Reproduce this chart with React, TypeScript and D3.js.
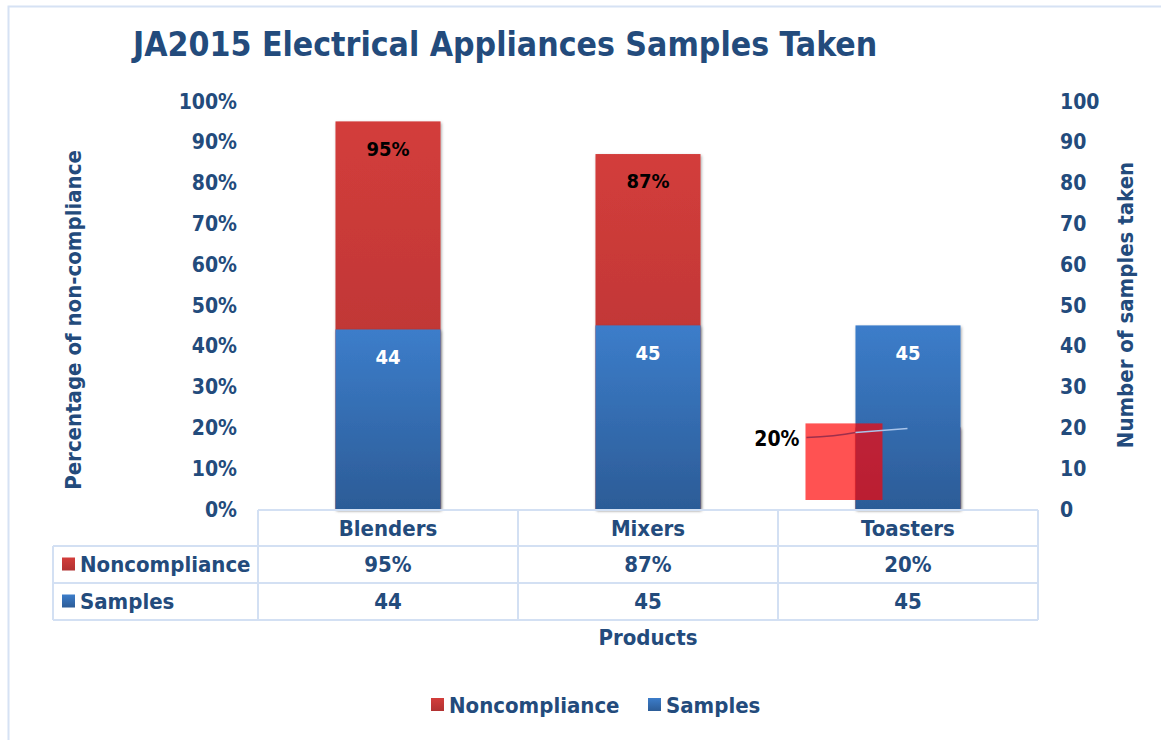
import React from "react";
import * as d3 from "d3";

const categories = ["Blenders", "Mixers", "Toasters"];
const noncompliance = [0.95, 0.87, 0.2];
const samples = [44, 45, 45];
const leftTicks = [0, 0.1, 0.2, 0.3, 0.4, 0.5, 0.6, 0.7, 0.8, 0.9, 1.0];
const rightTicks = [0, 10, 20, 30, 40, 50, 60, 70, 80, 90, 100];
const seriesNames = ["Noncompliance", "Samples"];

const W = 1161;
const H = 740;
const FONT = "'DejaVu Sans Condensed', 'DejaVu Sans', Verdana, sans-serif";
const NAVY = "#234B7C";
const GRID = "#D3E0F3";
const FS = 22;

export default function App() {
  const plotL = 258, plotR = 1038, plotT = 101, plotB = 509;
  const x = d3.scaleBand<string>().domain(categories).range([plotL, plotR]).paddingInner(0.596).paddingOuter(0.298);
  const yL = d3.scaleLinear().domain([0, 1]).range([plotB, plotT]);
  const yR = d3.scaleLinear().domain([0, 100]).range([plotB, plotT]);
  const step = x.step();
  const bw = x.bandwidth();
  const pct = d3.format(".0%");

  const tableTop = plotB + 1;
  const rowH = 37;
  const rows = [tableTop, tableTop + 36, tableTop + 36 + rowH, tableTop + 36 + 2 * rowH];
  const tableLeft = 53;

  const tIdx = 2;
  const tx = x(categories[tIdx])!;
  const tTop = yL(noncompliance[tIdx]);

  return (
    <svg width={W} height={H} style={{ position: "absolute", left: 0, top: 0 }} fontFamily={FONT}>
      <defs>
        <linearGradient id="gRed" x1="0" y1="0" x2="0" y2="1">
          <stop offset="0" stopColor="#D33D3B" />
          <stop offset="1" stopColor="#B13232" />
        </linearGradient>
        <linearGradient id="gBlue" x1="0" y1="0" x2="0" y2="1">
          <stop offset="0" stopColor="#3C7DCA" />
          <stop offset="1" stopColor="#2C5C97" />
        </linearGradient>
        <filter id="shadow" x="-10%" y="-10%" width="130%" height="130%">
          <feDropShadow dx="1" dy="1.5" stdDeviation="1.5" floodColor="#000" floodOpacity="0.35" />
        </filter>
      </defs>
      <rect x={0} y={0} width={W} height={H} fill="#fff" />
      <path d={`M8.5,${H} V6.5 H${W}`} fill="none" stroke="#D6E2F4" strokeWidth={2} />

      <text x={133} y={56} fontSize={33.5} fontWeight="bold" fill={NAVY}>
        JA2015 Electrical Appliances Samples Taken
      </text>

      {/* left axis ticks */}
      {leftTicks.map((t) => (
        <text key={"l" + t} x={237} y={yL(t)} dy="0.36em" textAnchor="end" fontSize={21} fontWeight="bold" fill={NAVY}>
          {pct(t)}
        </text>
      ))}
      {rightTicks.map((t) => (
        <text key={"r" + t} x={1060} y={yR(t)} dy="0.36em" textAnchor="start" fontSize={21} fontWeight="bold" fill={NAVY}>
          {t}
        </text>
      ))}
      <text transform={`translate(81,320) rotate(-90)`} textAnchor="middle" fontSize={FS} fontWeight="bold" fill={NAVY}>
        Percentage of non-compliance
      </text>
      <text transform={`translate(1133,305) rotate(-90)`} textAnchor="middle" fontSize={FS} fontWeight="bold" fill={NAVY}>
        Number of samples taken
      </text>

      {/* bars */}
      {categories.map((c, i) => (
        <rect key={"nb" + c} x={x(c)} y={yL(noncompliance[i])} width={bw} height={plotB - yL(noncompliance[i])} fill="url(#gRed)" filter="url(#shadow)" />
      ))}
      {categories.map((c, i) => (
        <rect key={"sb" + c} x={x(c)} y={yR(samples[i])} width={bw} height={plotB - yR(samples[i])} fill="url(#gBlue)" filter="url(#shadow)" />
      ))}
      {categories.map((c, i) =>
        i === tIdx ? null : (
          <text key={"nl" + c} x={x(c)! + bw / 2} y={yL(noncompliance[i]) + 27} dy="0.36em" textAnchor="middle" fontSize={20} fontWeight="bold" fill="#000">
            {pct(noncompliance[i])}
          </text>
        )
      )}
      {categories.map((c, i) => (
        <text key={"sl" + c} x={x(c)! + bw / 2} y={yR(samples[i]) + 27} dy="0.36em" textAnchor="middle" fontSize={20} fontWeight="bold" fill="#fff">
          {samples[i]}
        </text>
      ))}

      {/* toasters noncompliance callout artifact */}
      <rect x={tx - 50} y={tTop - 4} width={77} height={plotB - 9 - (tTop - 4)} fill="#FF0000" opacity={0.68} />
      <path d={`M${tx - 49},${tTop + 10} Q${tx - 20},${tTop + 9} ${tx},${tTop + 5}`} fill="none" stroke="#9E2F4C" strokeWidth={1.5} />
      <path d={`M${tx},${tTop + 5} L${tx + 52},${tTop + 1}`} fill="none" stroke="#A9C4EA" strokeWidth={1.5} />
      <text x={tx - 56} y={tTop + 11} dy="0.36em" textAnchor="end" fontSize={21} fontWeight="bold" fill="#000">
        {pct(noncompliance[tIdx])}
      </text>

      {/* data table */}
      <g stroke={GRID} strokeWidth={2} fill="none">
        <line x1={plotL} x2={plotR} y1={rows[0]} y2={rows[0]} />
        {rows.slice(1).map((r) => (
          <line key={"row" + r} x1={tableLeft} x2={plotR} y1={r} y2={r} />
        ))}
        {[plotL, plotL + step, plotL + 2 * step, plotR].map((vx) => (
          <line key={"v" + vx} x1={vx} x2={vx} y1={rows[0]} y2={rows[3]} />
        ))}
        <line x1={tableLeft} x2={tableLeft} y1={rows[1]} y2={rows[3]} />
      </g>
      {categories.map((c) => (
        <text key={"cat" + c} x={x(c)! + bw / 2} y={(rows[0] + rows[1]) / 2} dy="0.36em" textAnchor="middle" fontSize={FS} fontWeight="bold" fill={NAVY}>
          {c}
        </text>
      ))}
      {categories.map((c, i) => (
        <text key={"tn" + c} x={x(c)! + bw / 2} y={(rows[1] + rows[2]) / 2} dy="0.36em" textAnchor="middle" fontSize={FS} fontWeight="bold" fill={NAVY}>
          {pct(noncompliance[i])}
        </text>
      ))}
      {categories.map((c, i) => (
        <text key={"ts" + c} x={x(c)! + bw / 2} y={(rows[2] + rows[3]) / 2} dy="0.36em" textAnchor="middle" fontSize={FS} fontWeight="bold" fill={NAVY}>
          {samples[i]}
        </text>
      ))}
      {seriesNames.map((s, i) => {
        const cy = (rows[i + 1] + rows[i + 2]) / 2;
        return (
          <g key={"tk" + s}>
            <rect x={62} y={cy - 7} width={13} height={13} fill={i === 0 ? "url(#gRed)" : "url(#gBlue)"} />
            <text x={80} y={cy} dy="0.36em" fontSize={FS} fontWeight="bold" fill={NAVY}>
              {s}
            </text>
          </g>
        );
      })}
      <text x={648} y={637} dy="0.36em" textAnchor="middle" fontSize={FS} fontWeight="bold" fill={NAVY}>
        Products
      </text>

      {/* legend */}
      {seriesNames.map((s, i) => {
        const lx = i === 0 ? 431 : 648;
        return (
          <g key={"lg" + s}>
            <rect x={lx} y={698} width={13} height={13} fill={i === 0 ? "url(#gRed)" : "url(#gBlue)"} />
            <text x={lx + 18} y={705} dy="0.36em" fontSize={FS} fontWeight="bold" fill={NAVY}>
              {s}
            </text>
          </g>
        );
      })}
    </svg>
  );
}
